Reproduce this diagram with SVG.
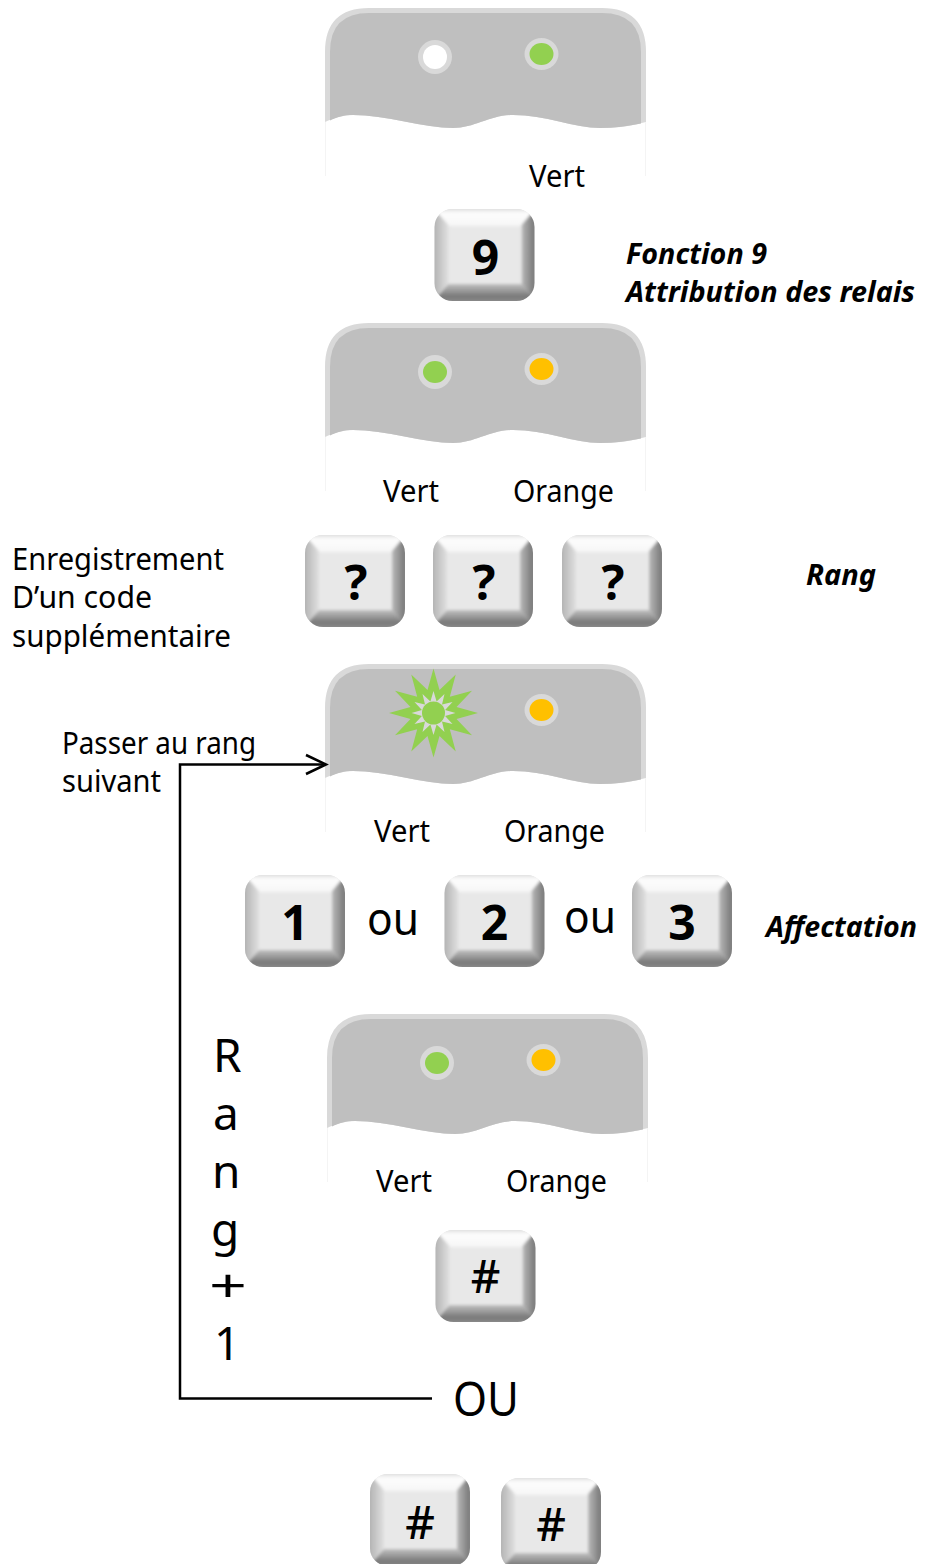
<svg xmlns="http://www.w3.org/2000/svg" width="937" height="1564" viewBox="0 0 937 1564">
<style>
text{font-family:"Noto Sans","Open Sans","Liberation Sans",sans-serif;fill:#000}
.t{font-size:30px}
.b{font-size:29px;font-weight:700;font-style:italic}
.k{font-size:48px;font-weight:700;text-anchor:middle}
.h{font-size:46px;font-weight:500;text-anchor:middle}
.o{font-size:46px}
.r{font-size:46px}
.ring{fill:#d9d9d9}
.g{fill:#92d050}
.y{fill:#ffc000}
.w{fill:#fff}
.c{fill:none;stroke:#000;stroke-width:2.5}
</style>
<defs>
<linearGradient id="gt" x1="0" y1="0" x2="0" y2="1"><stop offset="0" stop-color="#c8c8c8"/><stop offset=".4" stop-color="#fdfdfd"/><stop offset="1" stop-color="#f6f6f6"/></linearGradient>
<linearGradient id="gb" x1="0" y1="0" x2="0" y2="1"><stop offset="0" stop-color="#c0c0c0"/><stop offset=".6" stop-color="#777"/><stop offset="1" stop-color="#999"/></linearGradient>
<linearGradient id="gl" x1="0" y1="0" x2="1" y2="0"><stop offset="0" stop-color="#a8a8a8"/><stop offset="1" stop-color="#e0e0e0"/></linearGradient>
<linearGradient id="gr" x1="0" y1="0" x2="1" y2="0"><stop offset="0" stop-color="#b8b8b8"/><stop offset=".7" stop-color="#7c7c7c"/><stop offset="1" stop-color="#909090"/></linearGradient>
<clipPath id="kc"><rect x="0" y="0" width="100" height="92" rx="18"/></clipPath>
<filter id="s" x="-10%" y="-10%" width="120%" height="120%"><feGaussianBlur stdDeviation="1.500"/></filter>
<g id="key">
<g clip-path="url(#kc)">
<rect width="100" height="92" fill="#e6e6e6"/>
<g filter="url(#s)">
<polygon points="-4,-4 104,-4 87,17 13,17" fill="url(#gt)"/>
<polygon points="-4,-4 14,16 14,75 -4,96" fill="url(#gl)"/>
<polygon points="104,-4 87,16 87,75 104,96" fill="url(#gr)"/>
<polygon points="-4,96 14,75 87,75 104,96" fill="url(#gb)"/>
<rect x="14" y="17" width="73" height="58" fill="#e8e8e8"/>
</g>
</g>
</g>
<g id="panel">
<path d="M0,114V44Q0,0 44,0H277Q321,0 321,44V114C310,117 295,120 275,120C250,120 220,107 188,107C165,107 150,120 128,120C100,120 60,107 28,107C18,107 9,110 0,114Z" fill="#d9d9d9"/>
<path d="M5,112.500V44Q5,5 44,5H277Q316,5 316,44V115.500C303,118 290,120 275,120C250,120 220,107 188,107C165,107 150,120 128,120C100,120 60,107 28,107C19,107 12,109 5,112.500Z" fill="#bfbfbf"/>
<path d="M.5,114V168M320.5,114V168" stroke="#f4f4f4" fill="none"/>
</g>
</defs>

<g id="panel-1" transform="translate(325,8)">
<use href="#panel"/>
<ellipse class="ring" cx="110" cy="49" rx="17" ry="17"/><circle class="w" cx="110" cy="49" r="12"/>
<ellipse class="ring" cx="216.500" cy="46" rx="17" ry="16"/><ellipse class="g" cx="216.500" cy="46" rx="12" ry="11"/>
<text class="t" x="204" y="179" textLength="56" lengthAdjust="spacingAndGlyphs">Vert</text>
</g>
<g id="key-9" transform="translate(434.500,209)"><use href="#key"/><text class="k" x="51" y="66">9</text></g>
<g id="label-fonction"><text class="b" x="626" y="264" textLength="141" lengthAdjust="spacingAndGlyphs">Fonction 9</text><text class="b" x="626" y="302" textLength="289" lengthAdjust="spacingAndGlyphs">Attribution des relais</text></g>

<g id="panel-2" transform="translate(325,323)">
<use href="#panel"/>
<ellipse class="ring" cx="110" cy="49" rx="17" ry="17"/><ellipse class="g" cx="110" cy="49" rx="12" ry="11"/>
<ellipse class="ring" cx="216.500" cy="46" rx="17" ry="16"/><ellipse class="y" cx="216.500" cy="46" rx="12" ry="11"/>
<text class="t" x="58" y="179" textLength="56" lengthAdjust="spacingAndGlyphs">Vert</text><text class="t" x="188" y="179" textLength="101" lengthAdjust="spacingAndGlyphs">Orange</text>
</g>
<g id="label-enregistrement"><text class="t" x="12" y="570" textLength="212" lengthAdjust="spacingAndGlyphs">Enregistrement</text><text class="t" x="12" y="608" textLength="140" lengthAdjust="spacingAndGlyphs">D’un code</text><text class="t" x="12" y="647" textLength="219" lengthAdjust="spacingAndGlyphs">supplémentaire</text></g>
<g id="key-q1" transform="translate(305,535)"><use href="#key"/><text class="k" x="51" y="65">?</text></g>
<g id="key-q2" transform="translate(433,535)"><use href="#key"/><text class="k" x="51" y="65">?</text></g>
<g id="key-q3" transform="translate(562,535)"><use href="#key"/><text class="k" x="51" y="65">?</text></g>
<g id="label-rang"><text class="b" x="806" y="585" textLength="70" lengthAdjust="spacingAndGlyphs">Rang</text></g>

<g id="panel-3" transform="translate(325,664)">
<use href="#panel"/>
<g transform="translate(108.500,49)">
<polygon class="g" points="0,-44.500 6,-23 22.250,-38.500 16.300,-16.300 38.500,-22.250 23,-6 44.500,0 23,6 38.500,22.250 16.300,16.300 22.250,38.500 6,23 0,44.500 -6,23 -22.250,38.500 -16.300,16.300 -38.500,22.250 -23,6 -44.500,0 -23,-6 -38.500,-22.250 -16.300,-16.300 -22.250,-38.500 -6,-23"/>
<polygon class="ring" points="0,-22 3.100,-11.600 11,-19 8.500,-8.500 19,-11 11.600,-3.100 22,0 11.600,3.100 19,11 8.500,8.500 11,19 3.100,11.600 0,22 -3.100,11.600 -11,19 -8.500,8.500 -19,11 -11.600,3.100 -22,0 -11.600,-3.100 -19,-11 -8.500,-8.500 -11,-19 -3.100,-11.600"/>
<circle class="g" r="11.500"/>
</g>
<ellipse class="ring" cx="216.500" cy="46" rx="17" ry="16"/><ellipse class="y" cx="216.500" cy="46" rx="12" ry="11"/>
<text class="t" x="49" y="178" textLength="56" lengthAdjust="spacingAndGlyphs">Vert</text><text class="t" x="179" y="178" textLength="101" lengthAdjust="spacingAndGlyphs">Orange</text>
</g>
<g id="label-passer"><text class="t" x="62" y="754" textLength="194" lengthAdjust="spacingAndGlyphs">Passer au rang</text><text class="t" x="62" y="792" textLength="99" lengthAdjust="spacingAndGlyphs">suivant</text></g>

<g id="key-1" transform="translate(245,875)"><use href="#key"/><text class="k" x="50" y="65">1</text></g>
<g id="label-ou1"><text class="o" x="367" y="935" textLength="52" lengthAdjust="spacingAndGlyphs">ou</text></g>
<g id="key-2" transform="translate(444.500,875)"><use href="#key"/><text class="k" x="50" y="65">2</text></g>
<g id="label-ou2"><text class="o" x="564" y="933" textLength="52" lengthAdjust="spacingAndGlyphs">ou</text></g>
<g id="key-3" transform="translate(632,875)"><use href="#key"/><text class="k" x="50" y="65">3</text></g>
<g id="label-affectation"><text class="b" x="766" y="937" textLength="151" lengthAdjust="spacingAndGlyphs">Affectation</text></g>

<g id="panel-4" transform="translate(327,1014)">
<use href="#panel"/>
<ellipse class="ring" cx="110" cy="49" rx="17" ry="17"/><ellipse class="g" cx="110" cy="49" rx="12" ry="11"/>
<ellipse class="ring" cx="216.500" cy="46" rx="17" ry="16"/><ellipse class="y" cx="216.500" cy="46" rx="12" ry="11"/>
<text class="t" x="49" y="178" textLength="56" lengthAdjust="spacingAndGlyphs">Vert</text><text class="t" x="179" y="178" textLength="101" lengthAdjust="spacingAndGlyphs">Orange</text>
</g>
<g id="key-hash" transform="translate(435.500,1230)"><use href="#key"/><text class="h" x="50" y="63">#</text></g>
<g id="label-rang1">
<text class="r" x="213" y="1072">R</text><text class="r" x="213" y="1130">a</text><text class="r" x="212" y="1188">n</text><text class="r" x="211" y="1246">g</text><text class="r" x="209" y="1302" textLength="38" lengthAdjust="spacingAndGlyphs">+</text><text class="r" x="214" y="1360">1</text>
</g>
<g id="label-ou3"><text class="r" x="453" y="1416" style="font-size:48px" textLength="66" lengthAdjust="spacingAndGlyphs">OU</text></g>
<g id="key-hash2" transform="translate(370,1474)"><use href="#key"/><text class="h" x="50" y="65">#</text></g>
<g id="key-hash3" transform="translate(501,1478)"><use href="#key"/><text class="h" x="50" y="63">#</text></g>

<g id="connectors">
<path class="c" d="M432,1398.500H180V764.500H325"/>
<path class="c" d="M306,755L326,764.500L306,774"/>
</g>
</svg>
